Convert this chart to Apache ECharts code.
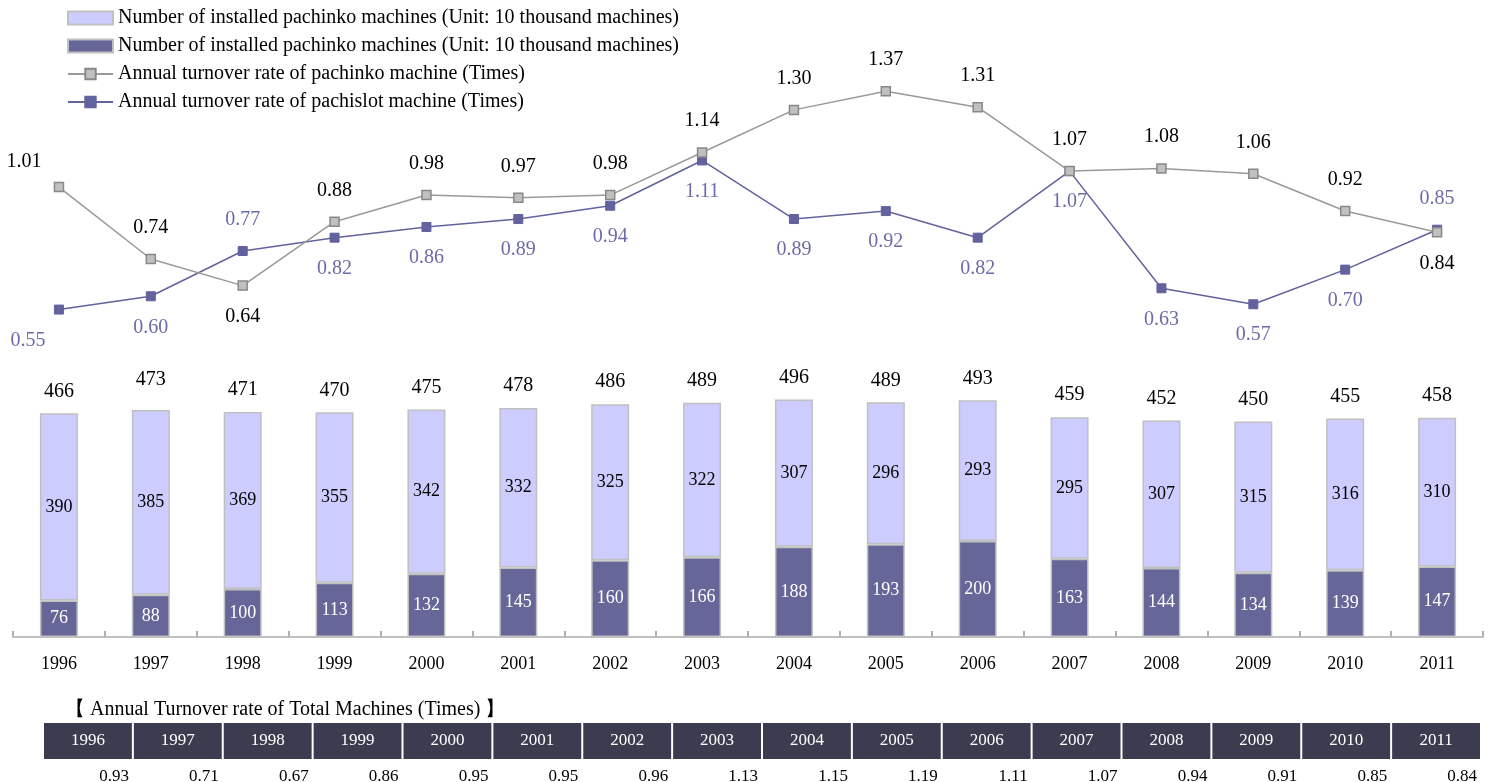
<!DOCTYPE html>
<html><head><meta charset="utf-8">
<script src="https://cdn.jsdelivr.net/npm/echarts@6/dist/echarts.min.js"></script>
<style>html,body{margin:0;padding:0;background:#fff}#c{width:1505px;height:782px}</style>
</head><body><div id="c"></div>
<script>
const years = ['1996','1997','1998','1999','2000','2001','2002','2003','2004','2005','2006','2007','2008','2009','2010','2011'];
const pachinkoMachines = [390,385,369,355,342,332,325,322,307,296,293,295,307,315,316,310];
const pachislotMachines = [76,88,100,113,132,145,160,166,188,193,200,163,144,134,139,147];
const totalMachines = [466,473,471,470,475,478,486,489,496,489,493,459,452,450,455,458];
const pachinkoRate = [1.01,0.74,0.64,0.88,0.98,0.97,0.98,1.14,1.30,1.37,1.31,1.07,1.08,1.06,0.92,0.84];
const pachislotRate = [0.55,0.60,0.77,0.82,0.86,0.89,0.94,1.11,0.89,0.92,0.82,1.07,0.63,0.57,0.70,0.85];
const totalRate = [0.93,0.71,0.67,0.86,0.95,0.95,0.96,1.13,1.15,1.19,1.11,1.07,0.94,0.91,0.85,0.84];
const pachinkoLabelBelow = ['1998','2011'];
const pachislotLabelAbove = ['1998','2011'];

const FONT = "'Liberation Serif','Times New Roman',serif";
const LIGHT = '#ccccff', DARK = '#666699', BORDER = '#c0c0c0';
const nameLight = 'Number of installed pachinko machines (Unit: 10 thousand machines)';
const nameDark = nameLight + ' ';
const nameRate1 = 'Annual turnover rate of pachinko machine (Times)';
const nameRate2 = 'Annual turnover rate of pachislot machine (Times)';

const chart = echarts.init(document.getElementById('c'));

function lineData(vals, below, firstOffset) {
  return vals.map((v, i) => {
    const lab = { position: below(years[i]) ? 'bottom' : 'top' };
    if (i === 0) lab.offset = firstOffset;
    return { value: v, label: lab };
  });
}

const option = {
  animation: false,
  textStyle: { fontFamily: FONT },
  legend: {
    orient: 'vertical', left: 67, top: 8, padding: 0, itemWidth: 45, itemHeight: 13, itemGap: 8,
    textStyle: { fontFamily: FONT, fontSize: 20, color: '#000', lineHeight: 19 },
    formatter: n => n.trim(),
    data: [
      { name: nameLight, icon: 'rect' },
      { name: nameDark, icon: 'rect' },
      nameRate1, nameRate2
    ]
  },
  title: {
    text: '【 Annual Turnover rate of Total Machines (Times) 】', left: 60, top: 695,
    textStyle: { fontFamily: FONT, fontSize: 20, fontWeight: 'normal', color: '#000' }
  },
  grid: [
    { left: 13, right: 22, top: 30, height: 426 },
    { left: 13, right: 22, top: 397, height: 240 },
    { left: 43, right: 24, top: 723, height: 36 }
  ],
  xAxis: [
    { type: 'category', data: years, gridIndex: 0, show: false },
    { type: 'category', data: years, gridIndex: 1,
      axisLine: { lineStyle: { color: '#c0c0c0', width: 2 } },
      axisTick: { show: true, inside: true, length: 6, lineStyle: { color: '#b0b0b0', width: 2 } },
      axisLabel: { color: '#000', fontSize: 18, margin: 18, fontFamily: FONT } },
    { type: 'category', data: years, gridIndex: 2, show: false }
  ],
  yAxis: [
    { type: 'value', gridIndex: 0, min: 0, max: 1.6, show: false },
    { type: 'value', gridIndex: 1, min: 0, max: 500, show: false },
    { type: 'value', gridIndex: 2, min: 0, max: 1, show: false }
  ],
  series: [
    { name: nameDark, type: 'bar', stack: 'm', xAxisIndex: 1, yAxisIndex: 1, barWidth: 38,
      data: pachislotMachines, itemStyle: { color: DARK, borderColor: BORDER, borderWidth: 1.5 },
      label: { show: true, position: 'inside', color: '#fff', fontSize: 18, fontFamily: FONT } },
    { name: nameLight, type: 'bar', stack: 'm', xAxisIndex: 1, yAxisIndex: 1, barWidth: 38,
      data: pachinkoMachines,
      itemStyle: { color: LIGHT, borderColor: BORDER, borderWidth: 1.5 },
      label: { show: true, position: 'inside', color: '#000', fontSize: 18, fontFamily: FONT } },
    { name: 'totals', type: 'bar', stack: 'm', xAxisIndex: 1, yAxisIndex: 1, barWidth: 38,
      data: totalMachines.map((v, i) => i === 1 ? { value: 0, label: { offset: [0, -8] } } : 0),
      itemStyle: { color: 'transparent' }, silent: true,
      label: { show: true, position: 'top', distance: 12, color: '#000', fontSize: 20, fontFamily: FONT,
        formatter: p => totalMachines[p.dataIndex] } },
    { name: nameRate1, type: 'line', xAxisIndex: 0, yAxisIndex: 0,
      data: lineData(pachinkoRate, y => pachinkoLabelBelow.includes(y), [-35, 6]),
      symbol: 'rect', symbolSize: 9, z: 3,
      lineStyle: { color: '#999999', width: 1.5 },
      itemStyle: { color: '#c0c0c0', borderColor: '#888888', borderWidth: 1.5 },
      label: { show: true, distance: 16, color: '#000', fontSize: 20, fontFamily: FONT, formatter: p => p.value.toFixed(2) } },
    { name: nameRate2, type: 'line', xAxisIndex: 0, yAxisIndex: 0,
      data: lineData(pachislotRate, y => !pachislotLabelAbove.includes(y), [-31, 0]),
      symbol: 'rect', symbolSize: 9, z: 2,
      lineStyle: { color: '#62629e', width: 1.5 },
      itemStyle: { color: '#62629e', borderColor: '#62629e', borderWidth: 1 },
      label: { show: true, distance: 16, color: '#6b6ba8', fontSize: 20, fontFamily: FONT, formatter: p => p.value.toFixed(2) } },
    { name: 'table', type: 'custom', xAxisIndex: 2, yAxisIndex: 2,
      data: totalRate.map((v, i) => [i, v]),
      renderItem: (params, api) => {
        const i = api.value(0);
        const top = api.coord([i, 1]);
        const bot = api.coord([i, 0]);
        const w = api.size([1, 0])[0];
        const x0 = top[0] - w / 2 + 1, x1 = top[0] + w / 2 - 1;
        return { type: 'group', children: [
          { type: 'rect', shape: { x: x0, y: top[1], width: x1 - x0, height: bot[1] - top[1] }, style: { fill: '#3c3c50' } },
          { type: 'text', style: { text: years[i], x: top[0], y: (top[1] + bot[1]) / 2, align: 'center', verticalAlign: 'middle', fill: '#fff', fontSize: 17, fontFamily: FONT } },
          { type: 'text', style: { text: api.value(1).toFixed(2), x: x1 - 3, y: bot[1] + 18, align: 'right', verticalAlign: 'middle', fill: '#000', fontSize: 17, fontFamily: FONT } }
        ] };
      }
    }
  ]
};
chart.setOption(option);
</script>
</body></html>
